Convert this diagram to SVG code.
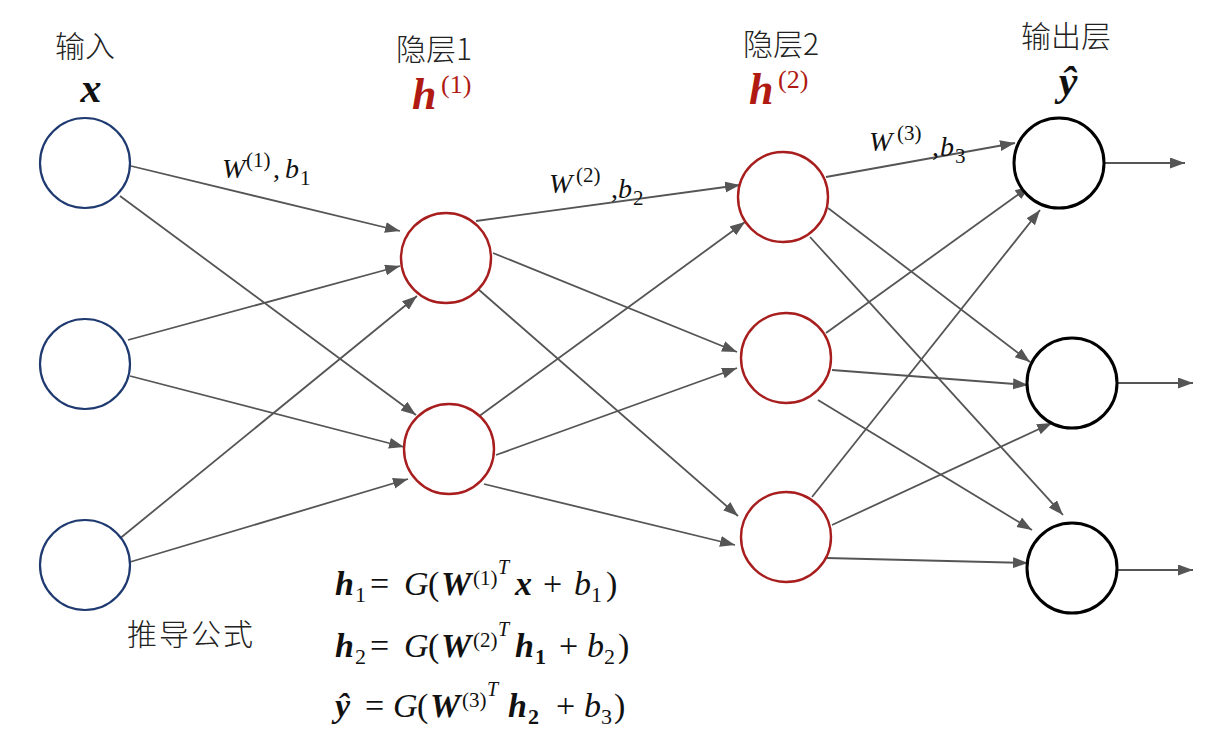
<svg xmlns="http://www.w3.org/2000/svg" width="1209" height="729" viewBox="0 0 1209 729">
<defs>
<marker id="ah" markerUnits="userSpaceOnUse" markerWidth="17" markerHeight="13" refX="15" refY="5.5" orient="auto">
<path d="M0,0 L15,5.5 L0,11 z" fill="#555"/>
</marker>
<style>
.edge{stroke:#555;stroke-width:1.8;fill:none;marker-end:url(#ah)}
.in{fill:#fff;stroke:#1f3a70;stroke-width:2.2}
.hid{fill:#fff;stroke:#a81d1d;stroke-width:2.4}
.out{fill:#fff;stroke:#000;stroke-width:3}
.cjk{font-family:"Noto Sans CJK SC","Noto Sans",sans-serif;font-weight:300;fill:#222}
.m{font-family:"Liberation Serif",serif;fill:#111}
.i{font-style:italic}
.bi{font-style:italic;font-weight:bold}
.red{fill:#b01a12}
</style>
</defs>
<rect width="1209" height="729" fill="#fff"/>
<g id="connectors">
<line class="edge" x1="131" y1="166" x2="400" y2="231"/>
<line class="edge" x1="120" y1="196" x2="416" y2="415"/>
<line class="edge" x1="128" y1="340" x2="400" y2="266"/>
<line class="edge" x1="130" y1="376" x2="404" y2="447"/>
<line class="edge" x1="118" y1="540" x2="417" y2="296"/>
<line class="edge" x1="130" y1="562" x2="408" y2="479"/>
<line class="edge" x1="476" y1="221" x2="740" y2="185"/>
<line class="edge" x1="493" y1="253" x2="737" y2="352"/>
<line class="edge" x1="478" y1="289" x2="738" y2="516"/>
<line class="edge" x1="478" y1="417" x2="745" y2="222"/>
<line class="edge" x1="496" y1="455" x2="737" y2="368"/>
<line class="edge" x1="484" y1="484" x2="735" y2="545"/>
<line class="edge" x1="826" y1="177" x2="1015" y2="143"/>
<line class="edge" x1="828" y1="208" x2="1030" y2="362"/>
<line class="edge" x1="810" y1="237" x2="1063" y2="515"/>
<line class="edge" x1="826" y1="333" x2="1030" y2="186"/>
<line class="edge" x1="832" y1="370" x2="1028" y2="385"/>
<line class="edge" x1="818" y1="400" x2="1032" y2="530"/>
<line class="edge" x1="812" y1="497" x2="1040" y2="210"/>
<line class="edge" x1="832" y1="525" x2="1052" y2="423"/>
<line class="edge" x1="826" y1="558" x2="1028" y2="563"/>
<line class="edge" x1="1105" y1="163" x2="1185" y2="163"/>
<line class="edge" x1="1118" y1="383" x2="1193" y2="383"/>
<line class="edge" x1="1118" y1="570" x2="1193" y2="570"/>
</g>
<g id="x1"><circle class="in" cx="85" cy="163" r="45"/></g>
<g id="x2"><circle class="in" cx="85" cy="364" r="45"/></g>
<g id="x3"><circle class="in" cx="85" cy="565" r="45"/></g>
<g id="h1a"><circle class="hid" cx="446" cy="258" r="45"/></g>
<g id="h1b"><circle class="hid" cx="449" cy="449" r="45"/></g>
<g id="h2a"><circle class="hid" cx="783" cy="197" r="45"/></g>
<g id="h2b"><circle class="hid" cx="786" cy="358" r="45"/></g>
<g id="h2c"><circle class="hid" cx="786" cy="537" r="45"/></g>
<g id="y1"><circle class="out" cx="1059" cy="163" r="45"/></g>
<g id="y2"><circle class="out" cx="1072" cy="383" r="45"/></g>
<g id="y3"><circle class="out" cx="1072" cy="568" r="45"/></g>
<g id="headers">
<text class="cjk" x="85" y="57" font-size="30" text-anchor="middle">输入</text>
<text class="m bi" x="91" y="102" font-size="42" text-anchor="middle">x</text>
<text class="cjk" x="434" y="60" font-size="30" text-anchor="middle">隐层1</text>
<text class="m red"><tspan class="bi" x="412" y="109" font-size="44">h</tspan><tspan x="441" y="93" font-size="26">(1)</tspan></text>
<text class="cjk" x="781" y="55" font-size="30" text-anchor="middle">隐层2</text>
<text class="m red"><tspan class="bi" x="749" y="104" font-size="44">h</tspan><tspan x="778" y="88" font-size="26">(2)</tspan></text>
<text class="cjk" x="1066" y="47" font-size="30" text-anchor="middle">输出层</text>
<text class="m bi" x="1068" y="95" font-size="42" text-anchor="middle">ŷ</text>
</g>
<g id="edge-labels" class="m">
<text font-size="28"><tspan class="i" x="222" y="178">W</tspan><tspan x="246" y="167" font-size="21">(1)</tspan><tspan x="273" y="178">,</tspan><tspan class="i" x="285" y="178">b</tspan><tspan x="300" y="185" font-size="21">1</tspan></text>
<text font-size="28"><tspan class="i" x="549" y="193">W</tspan><tspan x="576" y="182" font-size="21">(2)</tspan><tspan x="611" y="198">,</tspan><tspan class="i" x="618" y="198">b</tspan><tspan x="633" y="205" font-size="21">2</tspan></text>
<text font-size="28"><tspan class="i" x="869" y="151">W</tspan><tspan x="897" y="140" font-size="21">(3)</tspan><tspan x="932" y="156">,</tspan><tspan class="i" x="940" y="156">b</tspan><tspan x="955" y="163" font-size="21">3</tspan></text>
</g>
<g id="formulas">
<text class="cjk" x="127" y="645" font-size="30" letter-spacing="2">推导公式</text>
<text class="m" font-size="34"><tspan class="bi" x="335" y="595">h</tspan><tspan x="355" y="602" font-size="22">1</tspan><tspan x="370" y="595">=</tspan><tspan class="i" x="404" y="595">G</tspan><tspan x="428" y="595">(</tspan><tspan class="bi" x="441" y="595">W</tspan><tspan x="473" y="585" font-size="21">(1)</tspan><tspan class="i" x="498" y="574" font-size="20">T</tspan><tspan class="bi" x="515" y="595">x</tspan><tspan x="543" y="595">+</tspan><tspan class="i" x="574" y="595">b</tspan><tspan x="591" y="602" font-size="22">1</tspan><tspan x="606" y="595">)</tspan></text>
<text class="m" font-size="34"><tspan class="bi" x="335" y="657">h</tspan><tspan x="355" y="664" font-size="22">2</tspan><tspan x="370" y="657">=</tspan><tspan class="i" x="404" y="657">G</tspan><tspan x="428" y="657">(</tspan><tspan class="bi" x="441" y="657">W</tspan><tspan x="473" y="647" font-size="21">(2)</tspan><tspan class="i" x="498" y="636" font-size="20">T</tspan><tspan class="bi" x="515" y="657">h</tspan><tspan x="535" y="664" font-size="22" font-weight="bold">1</tspan><tspan x="559" y="657">+</tspan><tspan class="i" x="587" y="657">b</tspan><tspan x="604" y="664" font-size="22">2</tspan><tspan x="618" y="657">)</tspan></text>
<text class="m" font-size="34"><tspan class="bi" x="335" y="717">ŷ</tspan><tspan x="365" y="717">=</tspan><tspan class="i" x="393" y="717">G</tspan><tspan x="417" y="717">(</tspan><tspan class="bi" x="430" y="717">W</tspan><tspan x="462" y="707" font-size="21">(3)</tspan><tspan class="i" x="487" y="696" font-size="20">T</tspan><tspan class="bi" x="508" y="717">h</tspan><tspan x="528" y="724" font-size="22" font-weight="bold">2</tspan><tspan x="556" y="717">+</tspan><tspan class="i" x="584" y="717">b</tspan><tspan x="601" y="724" font-size="22">3</tspan><tspan x="614" y="717">)</tspan></text>
</g>
</svg>
